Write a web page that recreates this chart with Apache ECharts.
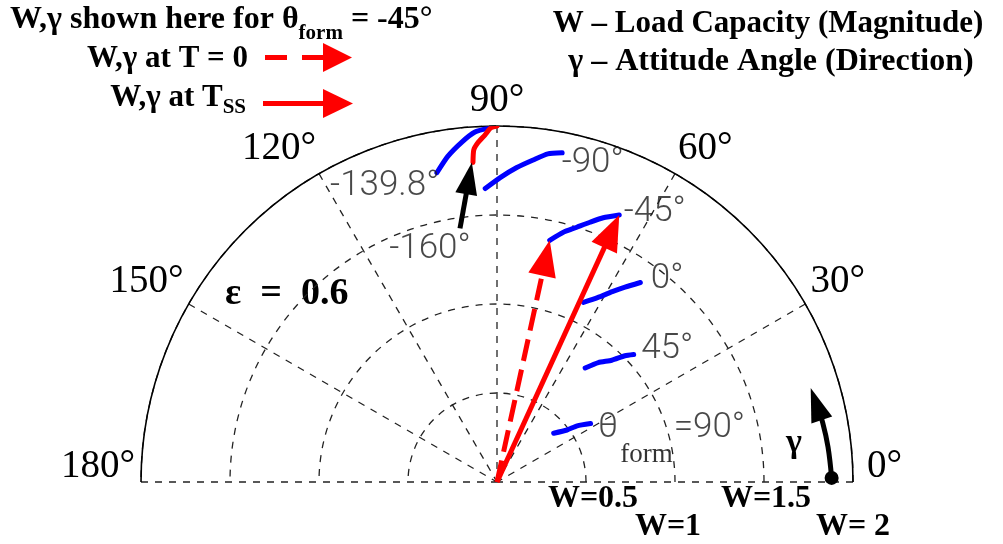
<!DOCTYPE html>
<html>
<head>
<meta charset="utf-8">
<script src="https://cdn.jsdelivr.net/npm/echarts@6/dist/echarts.min.js"></script>
<style>
  html, body { margin: 0; padding: 0; background: #fff; }
  #chart { width: 1003px; height: 544px; }
</style>
</head>
<body>
<div id="chart"></div>
<script>
// Load capacity W (radius) and attitude angle γ (degrees), traced from T = 0 to steady state,
// for each formation angle θform at eccentricity ε = 0.6
const formAngles = ['90', '45', '0', '-45', '-90', '-139.8', '-160'];

const wForm90 = [0.42, 0.49, 0.55, 0.62];
const gForm90 = [40.7, 36.6, 35.0, 32.0];
const wForm45 = [0.81, 0.88, 0.94, 1.01, 1.05];
const gForm45 = [52.3, 49.7, 46.7, 44.6, 43.0];
const wForm0 = [1.12, 1.18, 1.25, 1.31, 1.38];
const gForm0 = [64.3, 61.4, 58.8, 56.7, 54.3];
const wFormM45 = [1.39, 1.45, 1.50, 1.55, 1.60, 1.65];
const gFormM45 = [77.7, 75.2, 72.6, 70.3, 68.1, 65.4];
const wFormM90 = [1.65, 1.71, 1.77, 1.82, 1.865, 1.885];
const gFormM90 = [92.3, 89.4, 86.4, 83.6, 81.2, 78.8];
const wFormM139 = [1.77, 1.85, 1.92, 1.97, 1.99];
const gFormM139 = [101.0, 98.6, 95.9, 93.6, 91.2];
const wFormM160 = [1.80, 1.87, 1.91, 1.95, 1.99, 2.0];
const gFormM160 = [94.3, 94.0, 93.2, 92.0, 91.0, 90.0];

// pointer from the "-160°" tag to its curve, and the γ direction arc near 0°
const wPointer160 = [1.44, 1.80];
const gPointer160 = [98.3, 94.5];
const wGammaArc = [1.88, 1.87, 1.86, 1.84];
const gGammaArc = [0.7, 6.0, 10.3, 16.7];

// axis ticks
const angleTicks = [0, 30, 60, 90, 120, 150, 180];
const radiusTicks = [0, 0.5, 1, 1.5, 2];

const serif = "'Liberation Serif', 'Times New Roman', serif";
const sans = "Roboto, 'DejaVu Sans', sans-serif";
const BLUE = '#0000ff';
const RED = '#ff0000';

const zip = (w, g) => w.map((v, i) => [v, g[i]]);

const curves = [
  { name: '90', pts: zip(wForm90, gForm90), color: BLUE },
  { name: '45', pts: zip(wForm45, gForm45), color: BLUE },
  { name: '0', pts: zip(wForm0, gForm0), color: BLUE },
  { name: '-45', pts: zip(wFormM45, gFormM45), color: BLUE },
  { name: '-90', pts: zip(wFormM90, gFormM90), color: BLUE },
  { name: '-139.8', pts: zip(wFormM139, gFormM139), color: BLUE },
  { name: '-160', pts: zip(wFormM160, gFormM160), color: RED }
];

// θform = -45°: arrows from the origin to the start (T = 0) and end (T_SS) of its curve
const m45 = curves[3].pts;
const arrows = [
  { pts: [[0, m45[0][1]], m45[0]], color: RED, width: 5, dash: [22, 9], head: [28, 36] },
  { pts: [[0, m45[m45.length - 1][1]], m45[m45.length - 1]], color: RED, width: 5, dash: null, head: [28, 36] },
  { pts: zip(wPointer160, gPointer160), color: '#000', width: 5, dash: null, head: [22, 32] },
  { pts: zip(wGammaArc, gGammaArc), color: '#000', width: 5, dash: null, head: [22, 34], dot: 7 }
];

// curve tags: which end of the curve they sit beside, and their placement
const tagStyle = {
  '90': { at: 'end', position: 'right', offset: [2, 16] },
  '45': { at: 'end', position: 'right', offset: [2, -5] },
  '0': { at: 'end', position: 'right', offset: [5, -3] },
  '-45': { at: 'end', position: 'right', offset: [-1, -3] },
  '-90': { at: 'end', position: 'right', offset: [-6, 10] },
  '-139.8': { at: 'start', position: 'left', offset: [8, 14] }
};

const tagData = curves.filter(c => tagStyle[c.name]).map(c => {
  const s = tagStyle[c.name];
  const p = s.at === 'end' ? c.pts[c.pts.length - 1] : c.pts[0];
  return {
    value: p,
    name: c.name,
    label: { show: true, position: s.position, offset: s.offset }
  };
});
// the "-160°" tag hangs below the start of its pointer
tagData.push({
  value: arrows[2].pts[0],
  name: '-160',
  label: { show: true, position: 'bottom', offset: [-30, -2] }
});

function arrowRender(params, api) {
  const a = arrows[params.dataIndex];
  const px = a.pts.map(p => api.coord(p));
  const n = px.length;
  const tip = px[n - 1];
  const prev = px[n - 2];
  let dx = tip[0] - prev[0], dy = tip[1] - prev[1];
  const len = Math.sqrt(dx * dx + dy * dy) || 1;
  dx /= len; dy /= len;
  const hw = a.head[0] / 2, hl = a.head[1];
  const base = [tip[0] - dx * hl, tip[1] - dy * hl];
  const shaft = px.slice(0, n - 1).concat([[tip[0] - dx * hl * 0.6, tip[1] - dy * hl * 0.6]]);
  const children = [
    {
      type: 'polyline',
      shape: { points: shaft, smooth: n > 2 ? 0.4 : 0 },
      style: { stroke: a.color, lineWidth: a.width, fill: null, lineDash: a.dash || null }
    },
    {
      type: 'polygon',
      shape: { points: [tip, [base[0] - dy * hw, base[1] + dx * hw], [base[0] + dy * hw, base[1] - dx * hw]] },
      style: { fill: a.color, stroke: null }
    }
  ];
  if (a.dot) {
    children.push({
      type: 'circle',
      shape: { cx: px[0][0], cy: px[0][1], r: a.dot },
      style: { fill: a.color }
    });
  }
  return { type: 'group', children };
}

const series = curves.map(c => ({
  type: 'line',
  name: c.name,
  coordinateSystem: 'polar',
  data: c.pts,
  symbol: 'none',
  smooth: 0.2,
  lineStyle: { color: c.color, width: 5, join: 'round', cap: 'round' },
  z: 3,
  silent: true
}));

series.push({
  type: 'custom',
  name: 'arrows',
  coordinateSystem: 'polar',
  data: arrows.map((a, i) => a.pts[a.pts.length - 1].concat([i])),
  renderItem: arrowRender,
  z: 4,
  silent: true
});

const tagColor = '#1a1a1a';
series.push({
  type: 'scatter',
  name: 'tags',
  coordinateSystem: 'polar',
  data: tagData,
  symbol: 'circle',
  symbolSize: 1,
  itemStyle: { color: 'rgba(0,0,0,0)' },
  z: 5,
  silent: true,
  label: {
    show: true,
    color: tagColor,
    fontFamily: sans,
    fontSize: 35,
    fontWeight: 300,
    formatter: p => p.name === '90'
      ? '{t|θ}{s|form}{t|=90°}'
      : p.name + '°',
    rich: {
      t: { fontFamily: sans, fontSize: 35, color: tagColor, fontWeight: 300, verticalAlign: 'top', lineHeight: 58 },
      s: { fontFamily: serif, fontSize: 27, color: '#000', verticalAlign: 'bottom', lineHeight: 58, padding: [0, 1, 0, 2] }
    }
  }
});

// W tick labels alternate between an upper and a lower row
const wLabelRow = { 0.5: 'a', 1: 'c', 1.5: 'b', 2: 'd' };
const wFont = { fontFamily: serif, fontWeight: 'bold', fontSize: 32, color: '#000' };

const option = {
  backgroundColor: '#fff',
  animation: false,
  polar: { center: [497, 482], radius: 356 },
  angleAxis: {
    type: 'value',
    min: angleTicks[0],
    max: angleTicks[angleTicks.length - 1],
    interval: 30,
    startAngle: 0,
    endAngle: 180,
    clockwise: false,
    axisLine: { show: true, lineStyle: { color: '#000', width: 1.6 } },
    axisTick: { show: false },
    splitLine: { show: true, lineStyle: { color: '#222', width: 1.3, type: [7, 7] } },
    axisLabel: {
      show: true,
      margin: 6,
      color: '#000',
      fontFamily: serif,
      fontSize: 39,
      showMinLabel: true,
      showMaxLabel: true,
      formatter: v => v === 0 ? '{z|0°}' : v === 180 ? '{e|180°}' : v + '°',
      rich: {
        e: { fontFamily: serif, fontSize: 39, color: '#000', padding: [0, 0, 30, 0] },
        z: { fontFamily: serif, fontSize: 39, color: '#000', padding: [0, 0, 30, 8] }
      }
    }
  },
  radiusAxis: {
    type: 'value',
    min: radiusTicks[0],
    max: radiusTicks[radiusTicks.length - 1],
    interval: 0.5,
    axisLine: { show: false },
    axisTick: { show: false },
    splitLine: { show: true, lineStyle: { color: '#222', width: 1.3, type: [7, 7] } },
    axisLabel: {
      show: true,
      margin: -1,
      verticalAlign: 'top',
      showMinLabel: true,
      showMaxLabel: true,
      color: '#000',
      fontFamily: serif,
      fontWeight: 'bold',
      fontSize: 32,
      formatter: v => {
        const row = wLabelRow[v];
        if (!row) return '';
        return '{' + row + '|W=' + (v === 2 ? ' ' : '') + v + '}';
      },
      rich: {
        a: Object.assign({ padding: [0, 0, 0, 14] }, wFont),
        b: Object.assign({ padding: [0, 0, 0, 4] }, wFont),
        c: Object.assign({ padding: [28, 14, 0, 0] }, wFont),
        d: Object.assign({ padding: [28, 0, 0, 0] }, wFont)
      }
    }
  },
  graphic: [
    {
      type: 'text', x: 10, y: 4,
      style: {
        text: '{b|W,γ shown here for θ}{s|form}{b| = -45°}',
        rich: {
          b: { font: 'bold 32px ' + serif, fill: '#000', verticalAlign: 'top', lineHeight: 40 },
          s: { font: 'bold 21px ' + serif, fill: '#000', verticalAlign: 'bottom', lineHeight: 40 }
        }
      }
    },
    {
      type: 'text', x: 248, y: 43,
      style: { text: 'W,γ at T = 0', font: 'bold 31px ' + serif, fill: '#000', align: 'right' }
    },
    {
      type: 'text', x: 246, y: 82,
      style: {
        text: '{b|W,γ at T}{s|SS}',
        align: 'right',
        rich: {
          b: { font: 'bold 31px ' + serif, fill: '#000', verticalAlign: 'top', lineHeight: 36 },
          s: { font: 'bold 21px ' + serif, fill: '#000', verticalAlign: 'bottom', lineHeight: 36 }
        }
      }
    },
    {
      type: 'group', x: 265, y: 43,
      children: [
        { type: 'line', shape: { x1: 0, y1: 14.5, x2: 22, y2: 14.5 }, style: { stroke: RED, lineWidth: 5 } },
        { type: 'line', shape: { x1: 37, y1: 14.5, x2: 62, y2: 14.5 }, style: { stroke: RED, lineWidth: 5 } },
        { type: 'polygon', shape: { points: [[58, 0], [87, 14.5], [58, 29]] }, style: { fill: RED } }
      ]
    },
    {
      type: 'group', x: 263, y: 89,
      children: [
        { type: 'line', shape: { x1: 0, y1: 14.5, x2: 64, y2: 14.5 }, style: { stroke: RED, lineWidth: 5 } },
        { type: 'polygon', shape: { points: [[60, 0], [90, 14.5], [60, 29]] }, style: { fill: RED } }
      ]
    },
    {
      type: 'text', x: 768, y: 8,
      style: { text: 'W – Load Capacity (Magnitude)', font: 'bold 31px ' + serif, fill: '#000', align: 'center' }
    },
    {
      type: 'text', x: 771, y: 46,
      style: { text: 'γ – Attitude Angle (Direction)', font: 'bold 32px ' + serif, fill: '#000', align: 'center' }
    },
    {
      type: 'text', x: 225, y: 275,
      style: { text: 'ε  =  0.6', font: 'bold 38px ' + serif, fill: '#000' }
    },
    {
      type: 'text', x: 786, y: 426,
      style: { text: 'γ', font: 'bold 34px ' + serif, fill: '#000' }
    }
  ],
  series
};

const chart = echarts.init(document.getElementById('chart'));
chart.setOption(option);
</script>
</body>
</html>
